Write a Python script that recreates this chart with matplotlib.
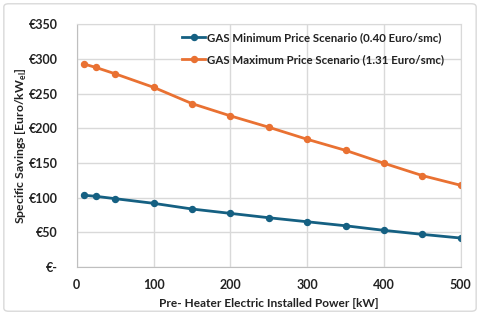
import matplotlib.pyplot as plt
from matplotlib.patches import FancyBboxPatch
from matplotlib.ticker import FuncFormatter

power_kw = [10, 25, 50, 100, 150, 200, 250, 300, 350, 400, 450, 500]
savings_min = [103.2, 101.7, 98.3, 91.6, 83.4, 77.1, 70.8, 65.0, 59.2, 52.6, 46.8, 41.5]
savings_max = [292.5, 287.6, 278.5, 259.0, 235.5, 217.8, 201.4, 184.0, 168.0, 149.4, 131.6, 117.6]
label_min = 'GAS Minimum Price Scenario (0.40 Euro/smc)'
label_max = 'GAS Maximum Price Scenario (1.31 Euro/smc)'

plt.rcParams['font.family'] = ['Lato', 'DejaVu Sans']
plt.rcParams['font.weight'] = 'bold'
plt.rcParams['mathtext.fontset'] = 'custom'
plt.rcParams['mathtext.bf'] = 'Lato:bold'
plt.rcParams['mathtext.rm'] = 'Lato:bold'

fig = plt.figure(figsize=(4.8, 3.15), dpi=100)
ax = fig.add_axes([0.160, 0.153, 0.800, 0.770])

ax.plot(power_kw, savings_min, color='#156082', marker='o', markersize=4.3,
        linewidth=2, label=label_min)
ax.plot(power_kw, savings_max, color='#E97132', marker='o', markersize=4.3,
        linewidth=2, label=label_max)

ax.set_xlim(0, 500)
ax.set_ylim(0, 350)
ax.set_xticks(range(0, 501, 100))
ax.set_yticks(range(0, 351, 50))
ax.yaxis.set_major_formatter(FuncFormatter(lambda v, p: '€-' if v == 0 else f'€{v:.0f}'))
ax.tick_params(length=0, labelsize=9, colors='#222222')
ax.tick_params(axis='y', pad=14)
ax.tick_params(axis='x', pad=9)
for lab in ax.get_xticklabels() + ax.get_yticklabels():
    lab.set_fontweight('bold')

ax.grid(True, color='#d9d9d9', linewidth=1)
ax.set_axisbelow(True)
for s in ax.spines.values():
    s.set_color('#d9d9d9')
ax.spines['left'].set_color('#bfbfbf')
ax.spines['bottom'].set_color('#bfbfbf')

ax.set_xlabel('Pre- Heater Electric Installed Power [kW]', fontsize=8.6,
              fontweight='bold', labelpad=5, color='#222222')
ax.set_ylabel('Specific Savings [Euro/kW$_{\\mathrm{el}}$]', fontsize=8.8,
              fontweight='bold', color='#222222')
ax.yaxis.set_label_coords(-0.125, 0.5)

leg = ax.legend(loc='upper left', bbox_to_anchor=(0.255, 1.0), frameon=False,
                fontsize=8.3, handlelength=2.0, handletextpad=0.15,
                labelspacing=0.95, borderaxespad=0.25)
for t in leg.get_texts():
    t.set_fontweight('bold')
    t.set_color('#222222')

border = FancyBboxPatch((0.008, 0.012), 0.984, 0.976, boxstyle='round,pad=0,rounding_size=0.01',
                        transform=fig.transFigure, fill=False, edgecolor='#d9d9d9', linewidth=1)
fig.patches.append(border)

fig.savefig('out.png', dpi=100)
